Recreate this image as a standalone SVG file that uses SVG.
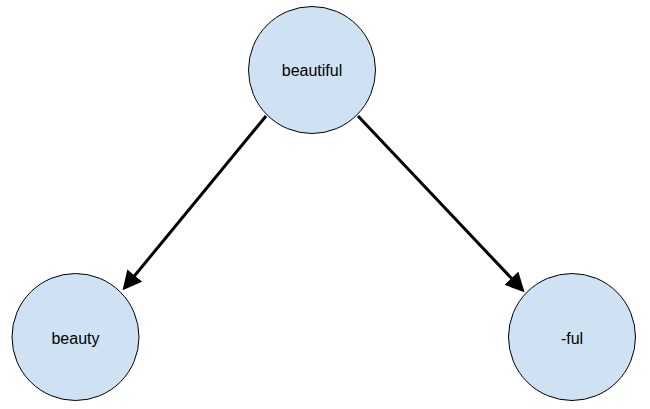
<svg xmlns="http://www.w3.org/2000/svg" width="650" height="409" viewBox="0 0 650 409">
<style>
.node circle{fill:#cfe2f3;stroke:#000;stroke-width:1}
.node text{font-family:"Liberation Sans",Arial,sans-serif;font-size:16px;fill:#000;text-anchor:middle;dominant-baseline:central}
.edge{stroke:#000;stroke-width:3;fill:none}
</style>
<defs>
<marker id="ah" markerWidth="6.4" markerHeight="6.4" refX="5.4" refY="3.2" orient="auto" markerUnits="strokeWidth" viewBox="0 0 6.4 6.4">
<path d="M0,0 L6.4,3.2 L0,6.4 Z" fill="#000"/>
</marker>
</defs>
<rect width="650" height="409" fill="#fff"/>
<g id="connectors">
<line class="edge" x1="266" y1="116" x2="124.5" y2="288" marker-end="url(#ah)"/>
<line class="edge" x1="358" y1="116" x2="522.5" y2="290" marker-end="url(#ah)"/>
</g>
<g id="node-beautiful" class="node">
<circle cx="312" cy="70" r="63.5"/>
<text x="312" y="70">beautiful</text>
</g>
<g id="node-beauty" class="node">
<circle cx="75.5" cy="337" r="63.5"/>
<text x="75.5" y="338">beauty</text>
</g>
<g id="node-ful" class="node">
<circle cx="572" cy="337" r="63.5"/>
<text x="572" y="338">-ful</text>
</g>
</svg>
